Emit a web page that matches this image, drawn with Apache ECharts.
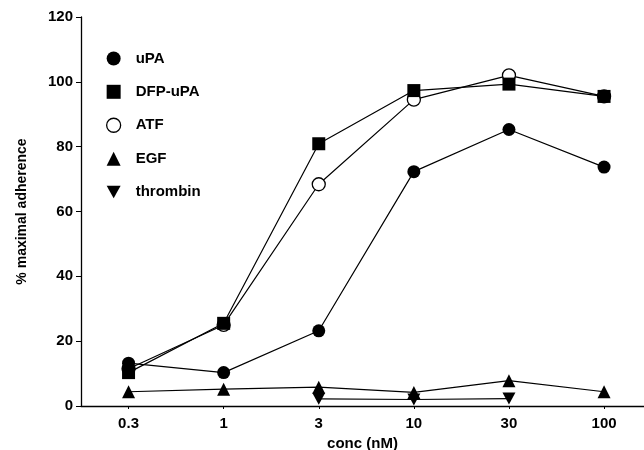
<!DOCTYPE html>
<html>
<head>
<meta charset="utf-8">
<script src="https://cdn.jsdelivr.net/npm/echarts@6/dist/echarts.min.js"></script>
<style>html,body{margin:0;padding:0;background:#fff}#c{width:644px;height:450px}</style>
</head>
<body>
<div id="c"></div>
<script>
var concLabels = ['0.3', '1', '3', '10', '30', '100'];
var yTicks = [0, 20, 40, 60, 80, 100, 120];
var uPA = [13.2, 10.3, 23.2, 72.3, 85.3, 73.7];
var dfpUPA = [10.3, 25.5, 80.9, 97.3, 99.3, 95.5];
var atf = [11.5, 25.0, 68.4, 94.5, 102.0, 95.5];
var egf = [4.4, 5.2, 5.8, 4.2, 7.8, 4.4];
var thrombin = [null, null, 2.2, 2.0, 2.3, null];

function pts(arr) {
  var out = [];
  arr.forEach(function (v, i) { if (v !== null) out.push([i, v]); });
  return out;
}
var downTri = 'path://M0,0L10,0L5,9Z';
var font = 'Liberation Sans, Arial, sans-serif';

var chart = echarts.init(document.getElementById('c'));
chart.setOption({
  animation: false,
  backgroundColor: '#fff',
  grid: { left: 81, right: 0, top: 17, bottom: 44, containLabel: false, outerBoundsMode: 'none' },
  legend: {
    orient: 'vertical',
    left: 101,
    top: 46,
    itemWidth: 14,
    itemHeight: 14,
    itemGap: 18.3,
    textStyle: { fontFamily: font, fontWeight: 'bold', fontSize: 15, color: '#000', padding: [0, 0, 0, 10] },
    data: [
      { name: 'uPA', icon: 'circle' },
      { name: 'DFP-uPA', icon: 'rect' },
      { name: 'ATF', icon: 'circle', itemStyle: { color: '#fff', borderColor: '#000', borderWidth: 1.3 } },
      { name: 'EGF', icon: 'triangle' },
      { name: 'thrombin', icon: downTri }
    ]
  },
  xAxis: {
    type: 'value',
    min: -0.5,
    max: 5.42,
    name: 'conc (nM)',
    nameLocation: 'middle',
    nameGap: 26,
    nameTextStyle: { fontFamily: font, fontWeight: 'bold', fontSize: 15, color: '#000' },
    splitLine: { show: false },
    axisLine: { onZero: false, lineStyle: { color: '#000', width: 1.3 } },
    axisTick: { customValues: [0, 1, 2, 3, 4, 5], length: 3, lineStyle: { color: '#000' } },
    axisLabel: {
      customValues: [0, 1, 2, 3, 4, 5],
      formatter: function (v) { return concLabels[Math.round(v)]; },
      fontFamily: font, fontWeight: 'bold', fontSize: 15, color: '#000', margin: 10
    }
  },
  yAxis: {
    type: 'value',
    min: 0,
    max: 120,
    interval: 20,
    name: '% maximal adherence',
    nameLocation: 'middle',
    nameGap: 52,
    nameTextStyle: { fontFamily: font, fontWeight: 'bold', fontSize: 14, color: '#000' },
    splitLine: { show: false },
    axisLine: { show: true, onZero: false, lineStyle: { color: '#000', width: 1.3 } },
    axisTick: { show: true, length: 5, lineStyle: { color: '#000' } },
    axisLabel: { fontFamily: font, fontWeight: 'bold', fontSize: 15, color: '#000', margin: 8 }
  },
  series: [
    { name: 'uPA', type: 'line', data: pts(uPA), symbol: 'circle', symbolSize: 13, z: 4,
      lineStyle: { color: '#000', width: 1.2 }, itemStyle: { color: '#000' } },
    { name: 'DFP-uPA', type: 'line', data: pts(dfpUPA), symbol: 'rect', symbolSize: 13, z: 3,
      lineStyle: { color: '#000', width: 1.2 }, itemStyle: { color: '#000' } },
    { name: 'ATF', type: 'line', data: pts(atf), symbol: 'circle', symbolSize: 13, z: 2,
      lineStyle: { color: '#000', width: 1.2 }, itemStyle: { color: '#fff', borderColor: '#000', borderWidth: 1.3 } },
    { name: 'EGF', type: 'line', data: pts(egf), symbol: 'triangle', symbolSize: 13, z: 2,
      lineStyle: { color: '#000', width: 1.2 }, itemStyle: { color: '#000' } },
    { name: 'thrombin', type: 'line', data: pts(thrombin), symbol: downTri, symbolSize: [13, 12], z: 2,
      lineStyle: { color: '#000', width: 1.2 }, itemStyle: { color: '#000' } }
  ]
});
</script>
</body>
</html>
